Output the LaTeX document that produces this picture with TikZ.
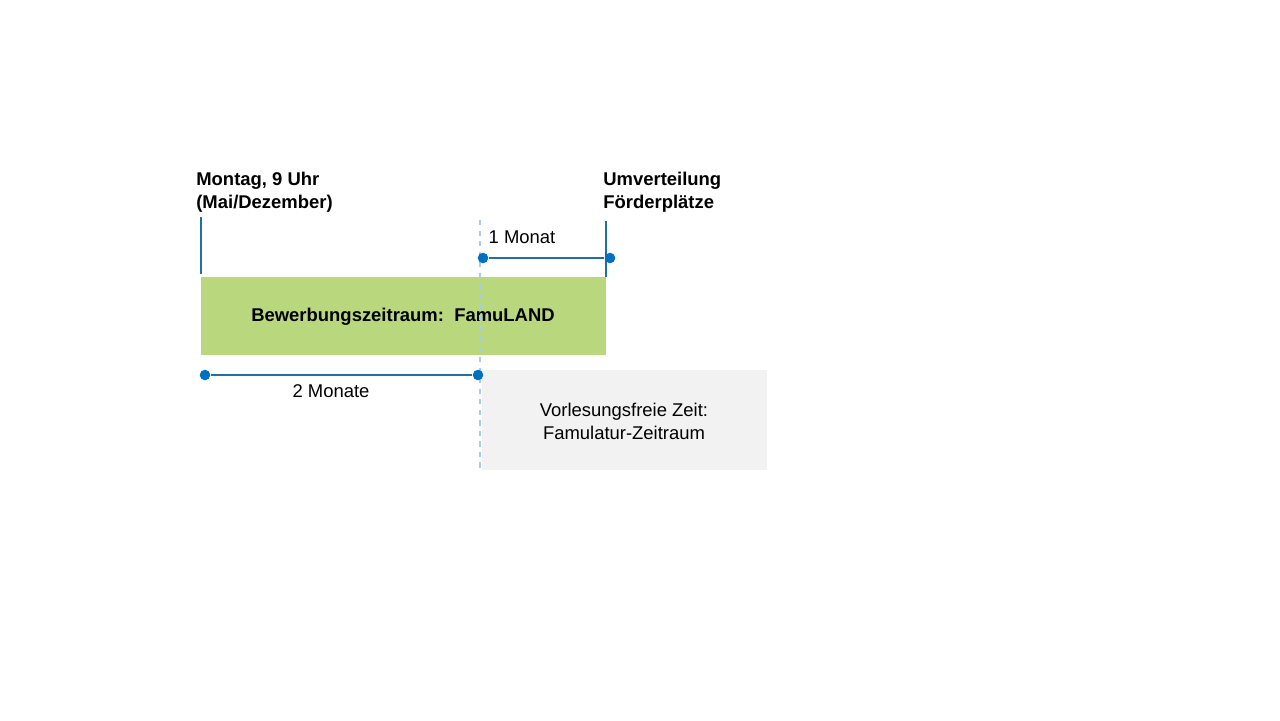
\documentclass[tikz,border=0pt]{standalone}
\usepackage{fontspec}
\setmainfont{Liberation Sans}
\definecolor{barblue}{HTML}{1F6FA8}
\definecolor{dotblue}{HTML}{0070C0}
\definecolor{famugreen}{HTML}{B9D77D}
\definecolor{freegray}{HTML}{F2F2F2}
\definecolor{dashblue}{HTML}{A9CCEE}
\tikzset{
  tick/.style={barblue, line width=1.2pt},
  span/.style={barblue, line width=1.2pt},
  dot/.style={circle, fill=dotblue, inner sep=0pt, minimum size=6pt},
  lbl/.style={font=\fontsize{10.5}{13}\selectfont, align=left, inner sep=0pt},
}
\begin{document}
\begin{tikzpicture}[x=0.02cm,y=-0.02cm]
      \useasboundingbox (0,0) rectangle (1280,720);
      % Bereiche
      \fill[famugreen] (201,277) rectangle (606,355);
      \node[lbl, font=\fontsize{10.5}{13}\selectfont\bfseries] (bewerb) at (403,317) {Bewerbungszeitraum:\ \ FamuLAND};
      \fill[freegray] (482,370) rectangle (767,470);
      \node[lbl, align=center] (frei) at (624,421) {Vorlesungsfreie Zeit:\\Famulatur-Zeitraum};
      \draw[dashblue, dashed, line width=0.8pt] (480,220) -- (480,470);
      % Marken
      \draw[tick] (201,217) -- (201,274);
      \draw[tick] (606,221) -- (606,277);
      \node[lbl, anchor=north west, font=\fontsize{10.5}{13}\selectfont\bfseries] (start) at (196,172) {Montag, 9 Uhr\\(Mai/Dezember)};
      \node[lbl, anchor=north west, font=\fontsize{10.5}{13}\selectfont\bfseries] (umv) at (603,172) {Umverteilung\\Förderplätze};
      % Spannen
      \node[dot] (m1a) at (483,258) {};
      \node[dot] (m1b) at (610,258) {};
      \draw[span] (m1a) -- (m1b);
      \node[lbl] (m1) at (522,237) {1 Monat};
      \node[dot] (m2a) at (205,375) {};
      \node[dot] (m2b) at (478,375) {};
      \draw[span] (m2a) -- (m2b);
      \node[lbl] (m2) at (331,391) {2 Monate};
\end{tikzpicture}
\end{document}
